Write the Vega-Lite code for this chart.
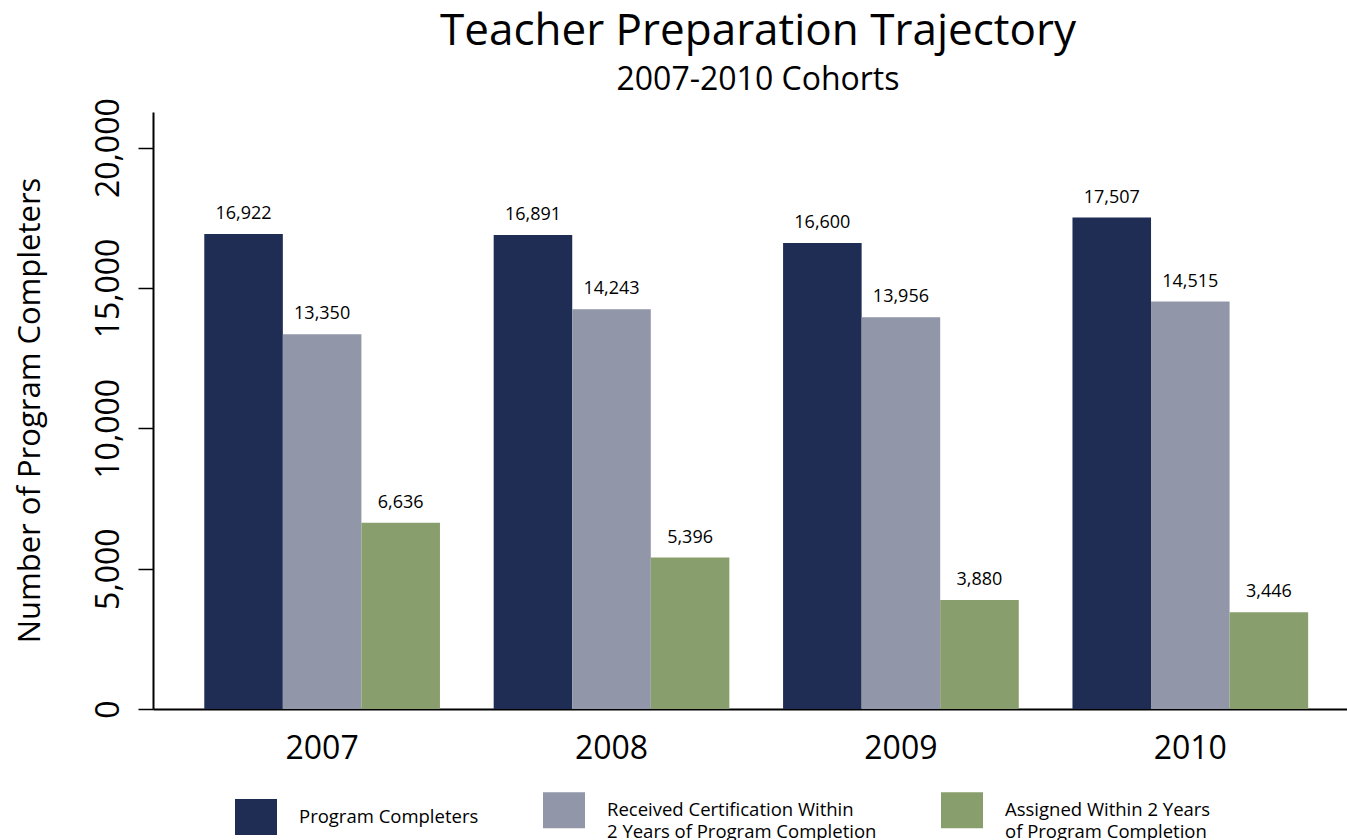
{
 "$schema": "https://vega.github.io/schema/vega-lite/v6.json",
 "width": 1194,
 "height": 597,
 "autosize": {"type": "none"},
 "padding": {"left": 153, "top": 112, "right": 0, "bottom": 131},
 "background": "white",
 "config": {
  "font": "Open Sans",
  "view": {"stroke": null},
  "axis": {"grid": false, "domainColor": "black", "tickColor": "black", "labelColor": "black", "titleColor": "black", "domainWidth": 2, "tickWidth": 1.5}
 },
 "title": {
  "text": "Teacher Preparation Trajectory",
  "subtitle": "2007-2010 Cohorts",
  "fontSize": 44,
  "fontWeight": "normal",
  "subtitleFontSize": 32,
  "anchor": "middle",
  "frame": "group",
  "offset": 2,
  "subtitlePadding": 11,
  "color": "black",
  "subtitleColor": "black",
  "dx": 8
 },
 "data": {
  "values": [
   {"cohort": "2007", "series": "Program Completers", "value": 16922},
   {"cohort": "2007", "series": "Received Certification Within 2 Years of Program Completion", "value": 13350},
   {"cohort": "2007", "series": "Assigned Within 2 Years of Program Completion", "value": 6636},
   {"cohort": "2008", "series": "Program Completers", "value": 16891},
   {"cohort": "2008", "series": "Received Certification Within 2 Years of Program Completion", "value": 14243},
   {"cohort": "2008", "series": "Assigned Within 2 Years of Program Completion", "value": 5396},
   {"cohort": "2009", "series": "Program Completers", "value": 16600},
   {"cohort": "2009", "series": "Received Certification Within 2 Years of Program Completion", "value": 13956},
   {"cohort": "2009", "series": "Assigned Within 2 Years of Program Completion", "value": 3880},
   {"cohort": "2010", "series": "Program Completers", "value": 17507},
   {"cohort": "2010", "series": "Received Certification Within 2 Years of Program Completion", "value": 14515},
   {"cohort": "2010", "series": "Assigned Within 2 Years of Program Completion", "value": 3446}
  ]
 },
 "encoding": {
  "x": {
   "field": "cohort", "type": "nominal",
   "scale": {"paddingInner": 0.1856, "paddingOuter": 0.1557, "align": 0.569},
   "axis": {"title": null, "labelAngle": 0, "ticks": false, "tickSize": 0, "labelFontSize": 32, "labelPadding": 39, "labelBaseline": "middle"}
  },
  "xOffset": {
   "field": "series", "type": "nominal",
   "sort": ["Program Completers", "Received Certification Within 2 Years of Program Completion", "Assigned Within 2 Years of Program Completion"],
   "scale": {"paddingInner": 0, "paddingOuter": 0}
  },
  "y": {
   "field": "value", "type": "quantitative",
   "scale": {"domain": [0, 21270], "nice": false},
   "axis": {
    "values": [0, 5000, 10000, 15000, 20000],
    "format": ",d",
    "labelAngle": -90, "labelAlign": "center", "labelBaseline": "middle",
    "labelFontSize": 32, "tickSize": 15, "labelPadding": 30,
    "title": "Number of Program Completers",
    "titleFontSize": 31, "titleFontWeight": "normal",
    "titleX": -123, "titleY": 298, "titleAngle": -90, "titleAlign": "center", "titleBaseline": "middle"
   }
  }
 },
 "layer": [
  {
   "mark": {"type": "bar"},
   "encoding": {
    "color": {
     "field": "series", "type": "nominal",
     "scale": {
      "domain": ["Program Completers", "Received Certification Within 2 Years of Program Completion", "Assigned Within 2 Years of Program Completion"],
      "range": ["#1F2D54", "#9196A9", "#899E6D"]
     },
     "legend": {
      "orient": "none", "legendX": 82, "legendY": 677,
      "direction": "horizontal", "columns": 3, "title": null, "padding": 0,
      "symbolType": "M-1,-0.857H1V0.857H-1Z", "symbolSize": 1764, "symbolStrokeWidth": 0, "symbolOpacity": 1,
      "labelFontSize": 18.5, "labelOffset": 22, "columnPadding": 64, "labelLimit": 400, "labelColor": "black",
      "labelExpr": "datum.label == 'Received Certification Within 2 Years of Program Completion' ? ['Received Certification Within', '2 Years of Program Completion'] : datum.label == 'Assigned Within 2 Years of Program Completion' ? ['Assigned Within 2 Years', 'of Program Completion'] : datum.label",
      "encode": {"labels": {"update": {"lineHeight": {"value": 22}}}}
     }
    }
   }
  },
  {
   "mark": {"type": "text", "baseline": "bottom", "dy": -11, "fontSize": 18, "color": "black"},
   "encoding": {"text": {"field": "value", "type": "quantitative", "format": ","}}
  }
 ]
}
